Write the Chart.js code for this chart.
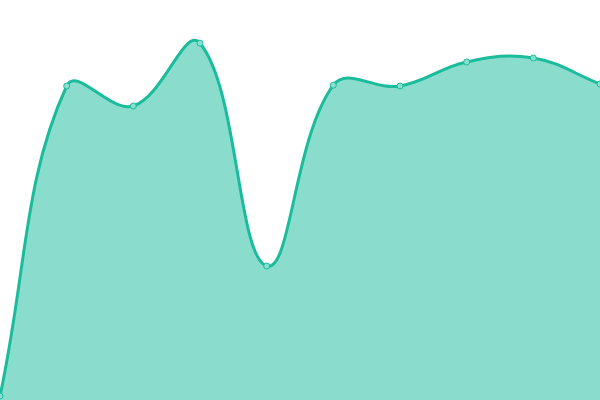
<!DOCTYPE html>
<html>
<head>
<meta charset="utf-8">
<script src="https://cdn.jsdelivr.net/npm/chart.js@4"></script>
<style>
  html, body { margin: 0; padding: 0; background: #fff; }
  #wrap { width: 600px; height: 400px; }
</style>
</head>
<body>
<div id="wrap"><canvas id="areaChart"></canvas></div>
<script>
// data
const labels = ["1", "2", "3", "4", "5", "6", "7", "8", "9", "10"];
const values = [1, 78.5, 73.5, 89.2, 33.5, 78.7, 78.5, 84.5, 85.5, 79];

const ctx = document.getElementById("areaChart").getContext("2d");

new Chart(ctx, {
    type: "line",
    data: {
        labels: labels,
        datasets: [{
            data: values,
            fill: true,
            tension: 0.4,
            borderColor: "#1abc9c",
            backgroundColor: "rgba(26,188,156,0.51)",
            borderWidth: 3,
            pointRadius: 3,
            pointBorderWidth: 1,
            pointBackgroundColor: "#8ae0cf",
            pointBorderColor: "#1abc9c"
        }]
    },
    options: {
        responsive: true,
        maintainAspectRatio: false,
        animation: false,
        layout: { padding: 0, autoPadding: false },
        plugins: {
            legend: { display: false },
            tooltip: { enabled: false }
        },
        scales: {
            x: { display: false, offset: false },
            y: { display: false, min: 0, max: 100 }
        }
    }
});
</script>
</body>
</html>
